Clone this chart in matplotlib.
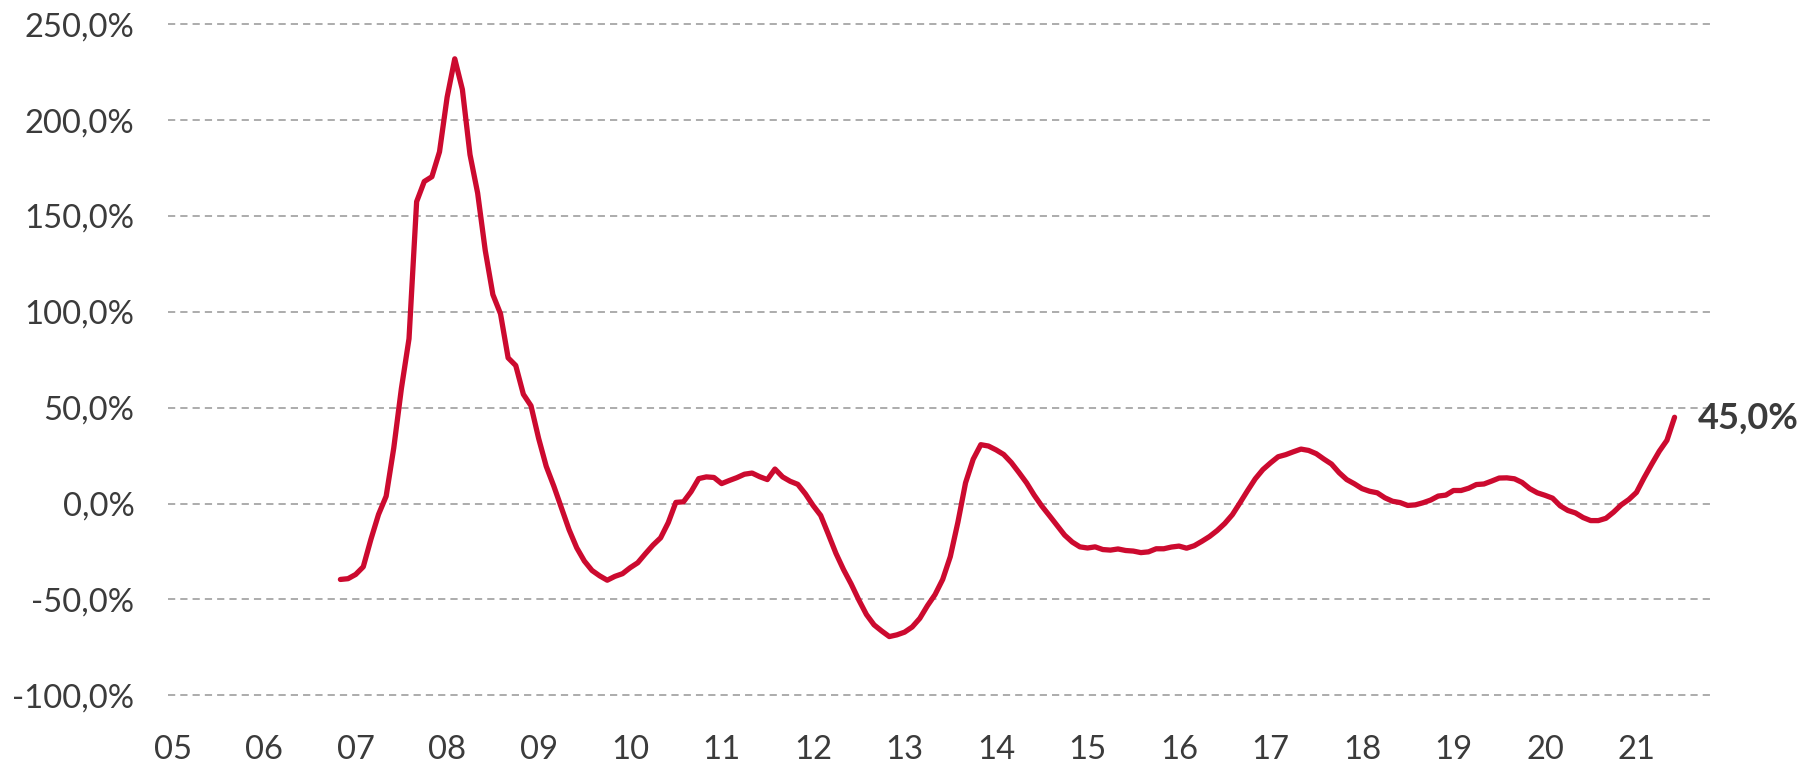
import numpy as np
import pandas as pd
import matplotlib
matplotlib.use("Agg")
import matplotlib.pyplot as plt
from matplotlib.ticker import FuncFormatter

plt.rcParams['font.family'] = ['Lato', 'DejaVu Sans']

# monthly series, Nov 2006 .. Jun 2021 (year-on-year change, %)
start_month = '2006-11-01'
values = [
    -39.6, -39.2, -37, -33, -18.7, -5.7, 3.8, 29, 60, 86,                  # 2006-11 .. 2007-08
    157.5, 168, 170.5, 183.5, 212, 232, 216, 182, 162, 132,                # 2007-09 .. 2008-06
    109, 99, 76, 72, 57, 51, 34, 19.4, 9, -2.3,                            # 2008-07 .. 2009-04
    -13.7, -23.1, -30, -34.9, -37.7, -40, -38, -36.6, -33.5, -30.9,        # 2009-05 .. 2010-02
    -26.2, -21.7, -17.9, -10, 0.6, 0.9, 6.2, 13, 13.9, 13.6,               # 2010-03 .. 2010-12
    10.4, 12, 13.5, 15.3, 15.9, 14, 12.5, 18, 13.9, 11.6,                  # 2011-01 .. 2011-10
    10, 5, -1, -6.2, -16, -26, -34.5, -42, -50.3, -57.9,                   # 2011-11 .. 2012-08
    -63.3, -66.5, -69.4, -68.5, -67.1, -64.4, -59.9, -53.3, -47.5, -39.6,  # 2012-09 .. 2013-06
    -27.7, -9.7, 10.8, 23.1, 30.7, 30, 28, 25.6, 21.4, 16.2,               # 2013-07 .. 2014-04
    10.8, 4.4, -1.3, -6.3, -11.4, -16.5, -20.1, -22.6, -23.2, -22.6,       # 2014-05 .. 2015-02
    -24, -24.3, -23.7, -24.5, -24.8, -25.6, -25.2, -23.6, -23.6, -22.7,    # 2015-03 .. 2015-12
    -22.2, -23.3, -22, -19.7, -17.2, -14.1, -10.4, -5.8, 0.4, 6.8,         # 2016-01 .. 2016-10
    12.9, 17.7, 21.2, 24.4, 25.5, 27, 28.4, 27.7, 26, 23.2,                # 2016-11 .. 2017-08
    20.6, 16.1, 12.5, 10.3, 7.8, 6.4, 5.6, 3, 1.2, 0.5,                    # 2017-09 .. 2018-06
    -1, -0.7, 0.4, 1.8, 3.9, 4.4, 6.8, 6.8, 8, 9.9,                        # 2018-07 .. 2019-04
    10.2, 11.7, 13.3, 13.4, 12.9, 11, 7.8, 5.6, 4.3, 2.8,                  # 2019-05 .. 2020-02
    -1.2, -3.6, -4.9, -7.3, -8.9, -8.9, -7.7, -4.5, -0.7, 2.1,             # 2020-03 .. 2020-12
    5.8, 13.4, 20.5, 27.3, 33, 45,                                         # 2021-01 .. 2021-06
]
years = list(range(2005, 2022))
y_ticks = [-100, -50, 0, 50, 100, 150, 200, 250]
last_label = '45,0%'

dates = pd.date_range(start_month, periods=len(values), freq='MS')
# month index counted from Jan 2005 (Excel-like evenly spaced months)
x = (dates.year - 2005) * 12 + (dates.month - 1)

fig = plt.figure(figsize=(18.04, 7.64), dpi=100)
ax = fig.add_axes([0.0931, 0.0850, 0.8567, 0.8882])

ax.plot(x, values, color='#cc0a2f', linewidth=3.8,
        solid_capstyle='round', solid_joinstyle='round', zorder=3)

ax.set_xlim(-0.62, 202.1)
ax.set_ylim(-102, 252)

ax.set_yticks(y_ticks)
ax.yaxis.set_major_formatter(FuncFormatter(lambda v, p: f'{v:.1f}%'.replace('.', ',')))
ax.set_xticks([(y - 2005) * 12 for y in years])
ax.set_xticklabels([f'{y % 100:02d}' for y in years])

ax.grid(axis='y', color='#a6a6a6', linewidth=1.3, linestyle=(0, (4.0, 2.8)))
ax.grid(axis='x', visible=False)
for s in ax.spines.values():
    s.set_visible(False)

ax.tick_params(axis='both', length=0, labelsize=23.6, labelcolor='#3b3b3b')
ax.tick_params(axis='y', pad=24)
ax.tick_params(axis='x', pad=26)

ax.annotate(last_label, xy=(x[-1], values[-1]), xytext=(17, -1),
            textcoords='offset points', ha='left', va='center',
            fontsize=26, fontweight='bold', color='#3b3b3b')

fig.savefig('out.png', dpi=100)
